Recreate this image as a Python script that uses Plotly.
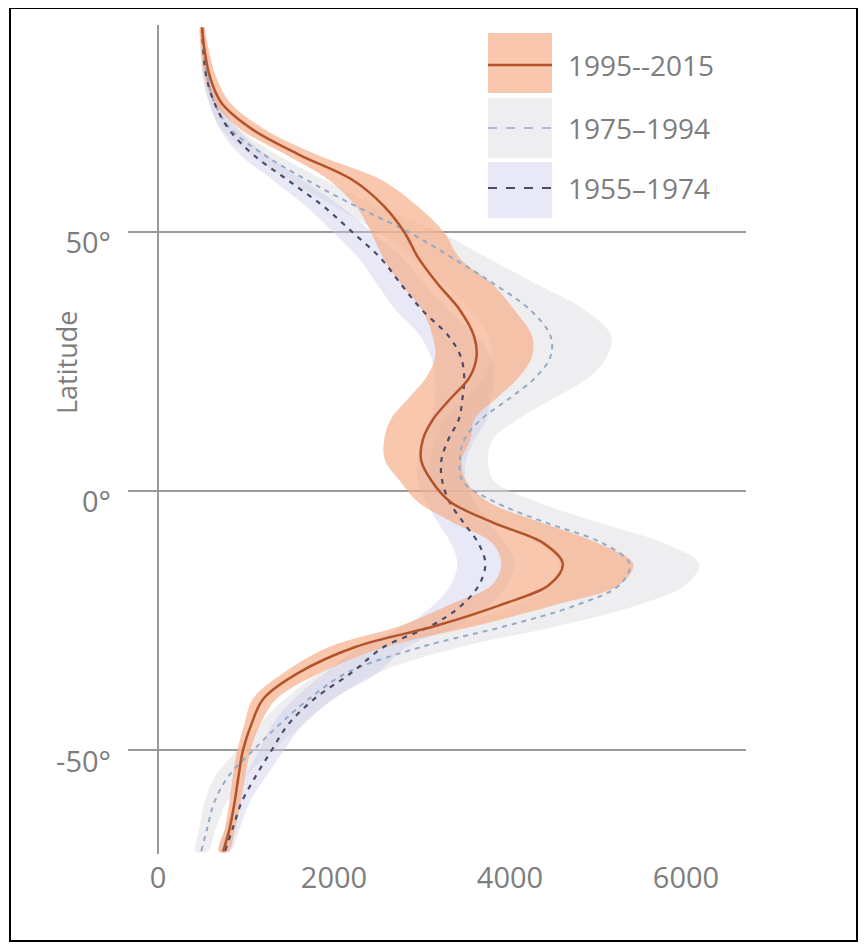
import plotly.graph_objects as go

# ---------------- data ----------------
LAT = [89.5, 85, 80, 75, 70, 65, 60, 55, 50, 45, 40, 35, 30, 26, 22, 18, 14, 10, 6, 2,
       -2, -6, -10, -14, -18, -22, -26, -30, -35, -40, -45, -50, -55, -60, -65, -69.5]

# 1995–2015 (solid line + orange band)
P3_MID = [500, 530, 590, 720, 1060, 1600, 2220, 2570, 2800, 2960, 3180, 3430, 3590, 3620, 3540, 3330,
          3130, 3010, 2990, 3110, 3320, 3800, 4380, 4600, 4450, 3880, 3150, 2250, 1600, 1200,
          1060, 965, 915, 870, 815, 740]
P3_LO = [470, 490, 530, 640, 930, 1450, 1950, 2250, 2420, 2560, 2760, 3000, 3120, 3150, 3050, 2850,
         2650, 2570, 2580, 2750, 2950, 3350, 3800, 3900, 3800, 3300, 2750, 1950, 1430, 1080,
         980, 900, 850, 810, 760, 690]
P3_HI = [530, 580, 660, 820, 1200, 1800, 2550, 2950, 3250, 3430, 3800, 4050, 4250, 4250, 4100, 3850,
         3600, 3550, 3450, 3500, 3750, 4350, 5000, 5400, 5250, 4500, 3600, 2600, 1850, 1350,
         1160, 1050, 990, 940, 880, 800]

# 1975–1994 (light dashed line + grey band)
P2_MID = [500, 520, 560, 640, 820, 1200, 1700, 2250, 2850, 3350, 3820, 4230, 4460, 4460, 4290, 4000,
          3680, 3480, 3430, 3460, 3820, 4400, 5050, 5360, 5250, 4750, 3950, 3000, 2150, 1720,
          1380, 1080, 800, 640, 560, 490]
P2_LO = [470, 480, 510, 580, 720, 1050, 1500, 2000, 2500, 2900, 3250, 3550, 3750, 3800, 3700, 3500,
         3250, 3150, 3100, 3100, 3350, 3800, 4300, 4550, 4500, 4050, 3350, 2600, 1850, 1450,
         1150, 900, 650, 530, 470, 430]
P2_HI = [530, 560, 610, 700, 920, 1350, 1900, 2500, 3200, 3750, 4300, 4850, 5150, 5100, 4900, 4500,
         4100, 3800, 3750, 3820, 4300, 5000, 5750, 6150, 6000, 5450, 4550, 3450, 2500, 2000,
         1650, 1300, 1000, 780, 660, 560]

# 1955–1974 (dark dashed line + lavender band)
P1_MID = [500, 515, 550, 640, 800, 1080, 1480, 1880, 2210, 2530, 2760, 3000, 3300, 3440, 3480, 3460,
          3420, 3300, 3220, 3230, 3310, 3470, 3640, 3720, 3650, 3450, 3100, 2570, 2200, 1780,
          1480, 1290, 1110, 950, 850, 760]
P1_LO = [480, 490, 510, 580, 700, 930, 1310, 1680, 1990, 2280, 2490, 2700, 2980, 3100, 3150, 3150,
         3100, 3000, 2950, 2950, 3050, 3180, 3330, 3400, 3330, 3130, 2800, 2300, 1900, 1550,
         1300, 1150, 990, 860, 770, 700]
P1_HI = [520, 540, 590, 700, 900, 1230, 1650, 2080, 2430, 2780, 3030, 3300, 3620, 3780, 3820, 3780,
         3740, 3600, 3500, 3500, 3600, 3760, 3950, 4050, 3970, 3770, 3400, 2830, 2500, 2000,
         1650, 1430, 1230, 1040, 930, 820]

SERIES = ["1995--2015", "1975–1994", "1955–1974"]
X_TICKS = [0, 2000, 4000, 6000]
Y_TICKS = [-50, 0, 50]
Y_TICKTEXT = ["-50°", "0°", "50°"]

# ---------------- styling ----------------
OFF = 8                      # page body margin of the html page
W, H = 860, 939
L, R, T, B = 128 - OFF, 122, 25 - OFF, 93
PW, PH = W - L - R, H - T - B

def px(x):                   # reference pixel -> paper x
    return (x - OFF - L) / PW

def py(y):                   # reference pixel -> paper y
    return (H - B - (y - OFF)) / PH

ORANGE_FILL = "rgba(245,172,134,0.68)"
GREY_FILL = "rgba(222,222,226,0.5)"
LAV_FILL = "rgba(200,200,234,0.42)"
SOLID_COL = "#b3532a"
LIGHT_DASH_COL = "#93abc9"
DARK_DASH_COL = "#4b4b68"
TEXT_COL = "#7d7d7d"
FONT = "Open Sans"

fig = go.Figure()

def band(lo, hi, color):
    return go.Scatter(x=list(hi) + list(lo)[::-1], y=LAT + LAT[::-1], fill="toself",
                      fillcolor=color, line=dict(width=0, shape="spline"), mode="lines",
                      hoverinfo="skip", showlegend=False)

fig.add_trace(band(P2_LO, P2_HI, GREY_FILL))
fig.add_trace(band(P1_LO, P1_HI, LAV_FILL))
fig.add_trace(band(P3_LO, P3_HI, ORANGE_FILL))

fig.add_trace(go.Scatter(x=P2_MID, y=LAT, mode="lines", name=SERIES[1], showlegend=False,
                         line=dict(color=LIGHT_DASH_COL, width=2, dash="5px,5px", shape="spline")))
fig.add_trace(go.Scatter(x=P1_MID, y=LAT, mode="lines", name=SERIES[2], showlegend=False,
                         line=dict(color=DARK_DASH_COL, width=2.2, dash="5px,6px", shape="spline")))
fig.add_trace(go.Scatter(x=P3_MID, y=LAT, mode="lines", name=SERIES[0], showlegend=False,
                         line=dict(color=SOLID_COL, width=2.5, shape="spline")))

shapes = []
annotations = []

# legend drawn by hand
legend_rows = [
    (33, 93, 65, ORANGE_FILL, SOLID_COL, "solid", 2.5, SERIES[0]),
    (98, 158, 128, GREY_FILL, LIGHT_DASH_COL, "dash", 1.5, SERIES[1]),
    (162, 218, 188, LAV_FILL, DARK_DASH_COL, "dash", 2, SERIES[2]),
]
for y0, y1, yl, fillc, linec, dash, lw, label in legend_rows:
    shapes.append(dict(type="rect", xref="paper", yref="paper", x0=px(488), x1=px(552),
                       y0=py(y1), y1=py(y0), fillcolor=fillc, line=dict(width=0), layer="above"))
    shapes.append(dict(type="line", xref="paper", yref="paper", x0=px(488), x1=px(552),
                       y0=py(yl), y1=py(yl), line=dict(color=linec, width=lw, dash=dash), layer="above"))
    annotations.append(dict(xref="paper", yref="paper", x=px(566), y=py(yl), text=label,
                            showarrow=False, xanchor="left", yanchor="middle",
                            font=dict(family=FONT, size=28, color=TEXT_COL)))

# outer frame
shapes.append(dict(type="rect", xref="paper", yref="paper", x0=px(10), x1=px(857),
                   y0=py(941), y1=py(8), line=dict(color="black", width=2), fillcolor="rgba(0,0,0,0)"))

annotations.append(dict(xref="paper", yref="paper", x=px(66), y=py(363), text="Latitude",
                        textangle=-90, showarrow=False, xanchor="center", yanchor="middle",
                        font=dict(family=FONT, size=27, color=TEXT_COL)))

fig.update_layout(
    width=W, height=H,
    margin=dict(l=L, r=R, t=T, b=B, pad=0),
    paper_bgcolor="white", plot_bgcolor="white",
    showlegend=False,
    shapes=shapes, annotations=annotations,
    xaxis=dict(range=[-341, 6682], tickvals=X_TICKS, showgrid=False, zeroline=True,
               zerolinecolor="#9a9a9a", zerolinewidth=2, showline=False, ticks="",
               tickfont=dict(family=FONT, size=29, color=TEXT_COL), ticklabelstandoff=4),
    yaxis=dict(range=[-70, 90], tickvals=Y_TICKS, ticktext=Y_TICKTEXT, showgrid=True,
               gridcolor="#9a9a9a", gridwidth=2, zeroline=False, showline=False, ticks="",
               tickfont=dict(family=FONT, size=29, color=TEXT_COL),
               ticklabelshift=11, ticklabelstandoff=16),
)

fig.write_html("out.html")
